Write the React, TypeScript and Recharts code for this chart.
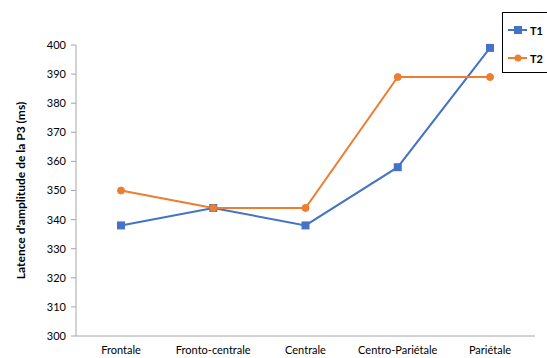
import React from "react"
import {
  LineChart,
  Line,
  XAxis,
  YAxis,
  Legend,
} from "recharts"

const regions = ["Frontale", "Fronto-centrale", "Centrale", "Centro-Pariétale", "Pariétale"]
const t1 = [338, 344, 338, 358, 399]
const t2 = [350, 344, 344, 389, 389]
const yTicks = [300, 310, 320, 330, 340, 350, 360, 370, 380, 390, 400]

const BLUE = "#4472C4"
const ORANGE = "#ED7D31"
const FONT = "Lato, 'Open Sans', sans-serif"

const data = regions.map((r, i) => ({ region: r, T1: t1[i], T2: t2[i] }))

// square marker for T1
const SquareDot = (props: any) => {
  const { cx, cy, index } = props
  if (cx == null || cy == null) return null
  return <rect key={index} x={cx - 4} y={cy - 4} width={8} height={8} fill={BLUE} />
}

const LegendBox = (props: any) => {
  const items = props.payload || []
  return (
    <div
      style={{
        border: "1px solid #000",
        width: 80,
        height: 61,
        boxSizing: "border-box",
        background: "#fff",
        paddingTop: 9,
        paddingLeft: 5,
        fontFamily: FONT,
        fontSize: 11,
        fontWeight: 700,
      }}
    >
      {items.map((it: any, i: number) => (
        <div
          key={it.value}
          style={{ display: "flex", alignItems: "center", height: 16, marginBottom: i === 0 ? 12 : 0 }}
        >
          <svg width={20} height={10}>
            <line x1={0} y1={5} x2={19} y2={5} stroke={it.color} strokeWidth={2} />
            {it.value === "T1" ? (
              <rect x={6} y={1} width={8} height={8} fill={it.color} />
            ) : (
              <circle cx={10} cy={5} r={3.5} fill={it.color} />
            )}
          </svg>
          <span style={{ marginLeft: 2, color: "#000" }}>{it.value}</span>
        </div>
      ))}
    </div>
  )
}

export default function App() {
  return (
    <div style={{ width: 547, height: 358, overflow: "hidden", background: "#fff" }}>
      <style>{`body{margin:0}`}</style>
      <LineChart
        width={547}
        height={358}
        data={data}
        margin={{ top: 45, right: 12, bottom: 0, left: 0 }}
      >
        <XAxis
          dataKey="region"
          height={22}
          padding={{ left: 45, right: 45 }}
          axisLine={{ stroke: "#a6a6a6" }}
          tickLine={false}
          tickMargin={4}
          interval={0}
          tick={{ fill: "#000", fontSize: 11, fontFamily: FONT }}
        />
        <YAxis
          width={76}
          domain={[300, 400]}
          ticks={yTicks}
          axisLine={{ stroke: "#a6a6a6" }}
          tickLine={{ stroke: "#a6a6a6" }}
          tickSize={5}
          tickMargin={5}
          tick={{ fill: "#000", fontSize: 11, fontFamily: FONT }}
          label={{
            content: (p: any) => {
              const vb = p.viewBox || {}
              const cy = vb.y + vb.height / 2
              return (
                <text
                  x={20}
                  y={cy}
                  transform={`rotate(-90 20 ${cy})`}
                  textAnchor="middle"
                  dominantBaseline="central"
                  fontFamily={FONT}
                  fontSize={12}
                  fontWeight={700}
                  fill="#000"
                >
                  Latence d'amplitude de la P3 (ms)
                </text>
              )
            },
          }}
        />
        <Legend
          layout="vertical"
          align="center"
          verticalAlign="middle"
          content={<LegendBox />}
          wrapperStyle={{ position: "absolute", top: 12, left: 502, width: 80 }}
        />
        <Line
          dataKey="T1"
          stroke={BLUE}
          strokeWidth={2}
          dot={<SquareDot />}
          isAnimationActive={false}
        />
        <Line
          dataKey="T2"
          stroke={ORANGE}
          strokeWidth={2}
          dot={{ r: 3.5, fill: ORANGE, stroke: ORANGE, strokeWidth: 1 }}
          isAnimationActive={false}
        />
      </LineChart>
    </div>
  )
}
